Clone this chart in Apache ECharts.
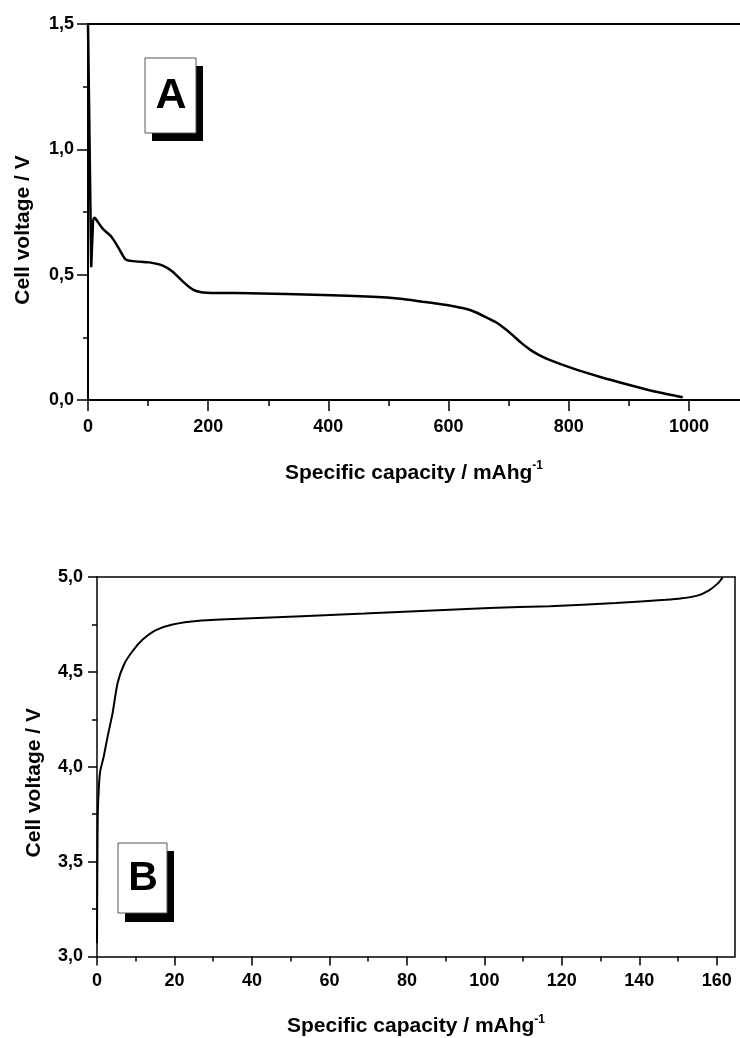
<!DOCTYPE html>
<html>
<head>
<meta charset="utf-8">
<script src="https://cdn.jsdelivr.net/npm/echarts@6/dist/echarts.min.js"></script>
<style>
html,body{margin:0;padding:0;background:#fff;}
#chart{width:740px;height:1038px;}
</style>
</head>
<body>
<div id="chart"></div>
<script>
// Panel A: discharge curve
var capA  = [0, 5.3, 8.5, 11, 17, 24.7, 38.6, 49.6, 62.4, 74.5, 102, 124.5, 141, 158, 170, 180, 196.7, 268.7, 390.7, 473.9, 520, 557, 585, 612.6, 630, 645, 660, 679, 695, 707, 720, 735, 750, 767.9, 806.7, 851, 901, 945, 989.7];
var voltA = [1.5, 0.53, 0.72, 0.727, 0.708, 0.683, 0.652, 0.612, 0.561, 0.554, 0.549, 0.536, 0.512, 0.472, 0.448, 0.435, 0.428, 0.426, 0.419, 0.412, 0.404, 0.392, 0.383, 0.372, 0.363, 0.350, 0.333, 0.310, 0.282, 0.258, 0.230, 0.202, 0.180, 0.160, 0.126, 0.093, 0.060, 0.033, 0.011];
// Panel B: charge curve
var capB  = [0, 0.1, 0.2, 0.5, 0.85, 1.7, 2.75, 4.0, 5.3, 7.0, 9.2, 11.8, 15.2, 19.5, 26.4, 36.7, 69, 101.3, 116.8, 133.9, 146.8, 151, 155, 158, 160.2, 161.5];
var voltB = [3.07, 3.5, 3.75, 3.9, 3.98, 4.05, 4.16, 4.28, 4.44, 4.54, 4.61, 4.67, 4.72, 4.75, 4.77, 4.78, 4.807, 4.837, 4.846, 4.863, 4.88, 4.888, 4.902, 4.93, 4.965, 4.997];

var xTicksA = [0, 200, 400, 600, 800, 1000];
var yTicksA = [0, 0.5, 1.0, 1.5];
var xTicksB = [0, 20, 40, 60, 80, 100, 120, 140, 160];
var yTicksB = [3.0, 3.5, 4.0, 4.5, 5.0];

var xTitle = '{a|Specific capacity / mAhg}{s|-1}';
var yTitle = 'Cell voltage / V';

function zip(a, b) { return a.map(function (v, i) { return [v, b[i]]; }); }
function comma(v) { return v.toFixed(1).replace('.', ','); }

var FONT = "'Liberation Sans', Arial, sans-serif";
var labelStyle = { color: '#000', fontFamily: FONT, fontWeight: 'bold', fontSize: 18 };
var nameStyle = {
  color: '#000', fontFamily: FONT, fontWeight: 'bold', fontSize: 21,
  rich: {
    a: { fontFamily: FONT, fontWeight: 'bold', fontSize: 21, color: '#000' },
    s: { fontFamily: FONT, fontWeight: 'bold', fontSize: 12, color: '#000', verticalAlign: 'top', padding: [0, 0, 14, 0] }
  }
};

function lineOnly(extra) {
  var o = {
    type: 'value', axisLine: { show: true, onZero: false, lineStyle: { color: '#000', width: 2 } },
    axisTick: { show: false }, axisLabel: { show: false }, splitLine: { show: false }
  };
  for (var k in extra) o[k] = extra[k];
  return o;
}

var dataA = zip(capA, voltA);
var dataB = zip(capB, voltB);
var lineA = { color: '#000', width: 2.5 };

var chart = echarts.init(document.getElementById('chart'), null, { renderer: 'canvas' });
chart.setOption({
  animation: false,
  backgroundColor: '#fff',
  grid: [
    { left: 88, top: 24, right: 0, bottom: 638 },
    { left: 97, top: 577, right: 5, bottom: 81 }
  ],
  xAxis: [
    {
      gridIndex: 0, type: 'value', position: 'bottom', min: 0, max: 1085, interval: 200,
      axisLine: { onZero: false, lineStyle: { color: '#000', width: 2 } },
      axisTick: { inside: false, length: 11, lineStyle: { color: '#000', width: 1.5 }, customValues: xTicksA },
      minorTick: { show: true, splitNumber: 2, length: 6, lineStyle: { color: '#000', width: 1.5 } },
      axisLabel: Object.assign({ margin: 18, customValues: xTicksA, formatter: function (v) { return String(v); } }, labelStyle),
      splitLine: { show: false },
      name: xTitle, nameLocation: 'middle', nameGap: 60, nameTextStyle: nameStyle
    },
    lineOnly({ gridIndex: 0, position: 'top', min: 0, max: 1085 }),
    {
      gridIndex: 1, type: 'value', position: 'bottom', min: 0, max: 164.7, interval: 20,
      axisLine: { onZero: false, lineStyle: { color: '#000', width: 1.5 } },
      axisTick: { inside: false, length: 9, lineStyle: { color: '#000', width: 1.5 }, customValues: xTicksB },
      minorTick: { show: true, splitNumber: 2, length: 5, lineStyle: { color: '#000', width: 1.5 } },
      axisLabel: Object.assign({ margin: 16, customValues: xTicksB, formatter: function (v) { return String(v); } }, labelStyle),
      splitLine: { show: false },
      name: xTitle, nameLocation: 'middle', nameGap: 57, nameTextStyle: nameStyle
    },
    lineOnly({ gridIndex: 1, position: 'top', min: 0, max: 164.7, axisLine: { show: true, onZero: false, lineStyle: { color: '#000', width: 1.5 } } })
  ],
  yAxis: [
    {
      gridIndex: 0, type: 'value', position: 'left', min: 0, max: 1.5, interval: 0.5,
      axisLine: { onZero: false, lineStyle: { color: '#000', width: 2 } },
      axisTick: { inside: false, length: 11, lineStyle: { color: '#000', width: 1.5 }, customValues: yTicksA },
      minorTick: { show: true, splitNumber: 2, length: 5, lineStyle: { color: '#000', width: 1.5 } },
      axisLabel: Object.assign({ margin: 14, customValues: yTicksA, formatter: comma }, labelStyle),
      splitLine: { show: false },
      name: yTitle, nameLocation: 'middle', nameGap: 54,
      nameTextStyle: Object.assign({}, nameStyle, { padding: [0, 36, 0, 0] })
    },
    {
      gridIndex: 1, type: 'value', position: 'left', min: 3, max: 5, interval: 0.5,
      axisLine: { onZero: false, lineStyle: { color: '#000', width: 1.5 } },
      axisTick: { inside: false, length: 9, lineStyle: { color: '#000', width: 1.5 }, customValues: yTicksB },
      minorTick: { show: true, splitNumber: 2, length: 5, lineStyle: { color: '#000', width: 1.5 } },
      axisLabel: Object.assign({ margin: 14, customValues: yTicksB, formatter: comma }, labelStyle),
      splitLine: { show: false },
      name: yTitle, nameLocation: 'middle', nameGap: 52,
      nameTextStyle: Object.assign({}, nameStyle, { padding: [0, 32, 0, 0] })
    },
    lineOnly({ gridIndex: 1, position: 'right', min: 3, max: 5, axisLine: { show: true, onZero: false, lineStyle: { color: '#000', width: 1.5 } } })
  ],
  series: [
    {
      type: 'line', xAxisIndex: 0, yAxisIndex: 0, data: dataA.slice(0, 3),
      showSymbol: false, symbol: 'none', clip: false, lineStyle: lineA
    },
    {
      type: 'line', xAxisIndex: 0, yAxisIndex: 0, data: dataA.slice(2),
      showSymbol: false, symbol: 'none', clip: false, smooth: 0.2, lineStyle: lineA
    },
    {
      type: 'line', xAxisIndex: 2, yAxisIndex: 1, data: dataB,
      showSymbol: false, symbol: 'none', clip: false, smooth: 0.2,
      lineStyle: { color: '#000', width: 2 }
    }
  ],
  graphic: [
    { type: 'rect', shape: { x: 152, y: 66, width: 51, height: 75 }, style: { fill: '#000' } },
    { type: 'rect', shape: { x: 145, y: 58, width: 51, height: 75 }, style: { fill: '#fff', stroke: '#555', lineWidth: 1 } },
    { type: 'text', x: 171, y: 96, style: { text: 'A', fill: '#000', font: "bold 43px 'Liberation Sans', Arial, sans-serif", align: 'center', verticalAlign: 'middle' } },
    { type: 'rect', shape: { x: 125, y: 851, width: 49, height: 71 }, style: { fill: '#000' } },
    { type: 'rect', shape: { x: 118, y: 843, width: 49, height: 70 }, style: { fill: '#fff', stroke: '#555', lineWidth: 1 } },
    { type: 'text', x: 143, y: 879, style: { text: 'B', fill: '#000', font: "bold 41px 'Liberation Sans', Arial, sans-serif", align: 'center', verticalAlign: 'middle' } }
  ]
});
</script>
</body>
</html>
